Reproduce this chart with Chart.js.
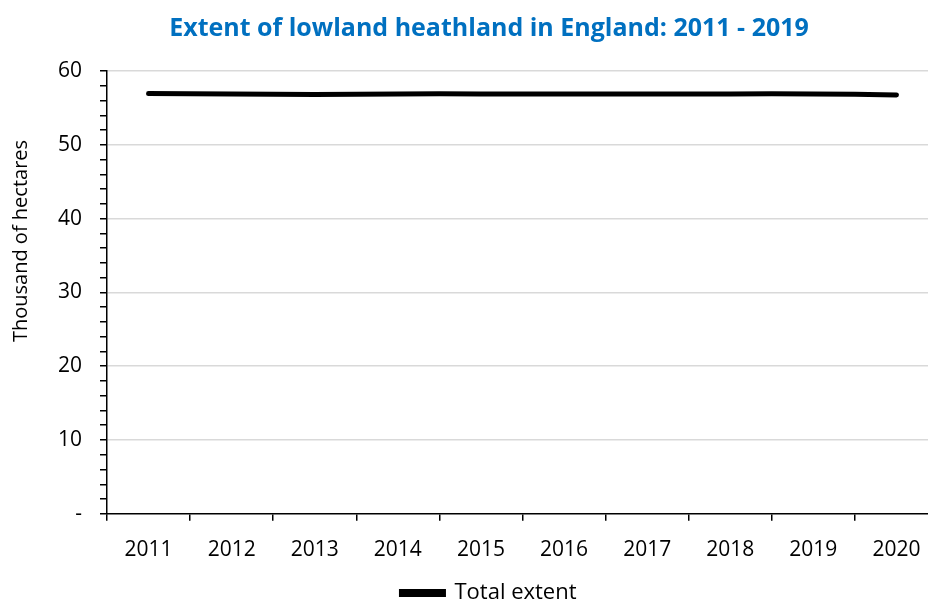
<!DOCTYPE html>
<html>
<head>
<meta charset="utf-8">
<script src="https://cdn.jsdelivr.net/npm/chart.js@4"></script>
<style>
  html, body { margin: 0; padding: 0; background: #fff; overflow: hidden; }
  #wrap { position: relative; width: 938px; height: 614px; }
</style>
</head>
<body>
<div id="wrap"><canvas id="heath-chart"></canvas></div>
<script>
// data
var years = ["2011", "2012", "2013", "2014", "2015", "2016", "2017", "2018", "2019", "2020"];
var totalExtent = [56.95, 56.9, 56.8, 56.9, 56.9, 56.9, 56.9, 56.9, 56.9, 56.75];
var seriesName = "Total extent";
var chartTitle = "Extent of lowland heathland in England: 2011 - 2019";
var yTitle = "Thousand of hectares";

var font = "'Open Sans', 'Noto Sans', sans-serif";

// axis title sits above the middle in the original, so it is drawn by hand
var yTitlePlugin = {
  id: "yTitleText",
  afterDraw: function(chart) {
    var c = chart.ctx;
    c.save();
    c.translate(21, 241);
    c.rotate(-Math.PI / 2);
    c.fillStyle = "#000";
    c.font = "20px " + font;
    c.textAlign = "center";
    c.textBaseline = "middle";
    c.fillText(yTitle, 0, 0);
    c.restore();
  }
};

let config = {
  type: "line",
  data: {
    labels: years,
    datasets: [{
      label: seriesName,
      data: totalExtent,
      borderColor: "#000000",
      backgroundColor: "#000000",
      borderWidth: 5,
      borderCapStyle: "round",
      pointRadius: 0,
      tension: 0.3
    }]
  },
  options: {
    responsive: true,
    maintainAspectRatio: false,
    animation: false,
    layout: { padding: { left: 40, right: 0, top: 10, bottom: 0 } },
    plugins: {
      title: {
        display: true,
        text: chartTitle,
        color: "#0070C0",
        font: { family: font, size: 25, weight: "bold" },
        padding: { top: 4, bottom: 27 }
      },
      legend: {
        position: "bottom",
        labels: {
          color: "#000",
          font: { family: font, size: 22 },
          boxWidth: 42,
          boxHeight: 3,
          padding: 7
        }
      },
      tooltip: { enabled: false }
    },
    scales: {
      x: {
        offset: true,
        afterFit: function(scale) { scale.height -= 5; },
        grid: {
          offset: true,
          color: "rgba(0,0,0,0)",
          tickColor: "#000",
          tickLength: 7,
          lineWidth: 1.5
        },
        border: { color: "#000", width: 1.5 },
        ticks: { color: "#000", font: { family: font, size: 21 }, padding: 17, maxRotation: 0 }
      },
      y: {
        min: 0,
        max: 60,
        grid: {
          color: function(ctx) { return ctx.tick && ctx.tick.value % 10 === 0 && ctx.tick.value !== 0 ? "#d9d9d9" : "rgba(0,0,0,0)"; },
          tickColor: "#000",
          tickLength: 7,
          lineWidth: 1.5
        },
        border: { color: "#000", width: 1.5 },
        ticks: {
          stepSize: 2,
          autoSkip: false,
          color: "#000",
          font: { family: font, size: 21 },
          padding: 18,
          callback: function(v) {
            if (v === 0) return "-";
            return v % 10 === 0 ? v : "";
          }
        }
      }
    }
  },
  plugins: [yTitlePlugin]
};

let ctx = document.getElementById("heath-chart").getContext("2d");
window.myLine = new Chart(ctx, config);
</script>
</body>
</html>
